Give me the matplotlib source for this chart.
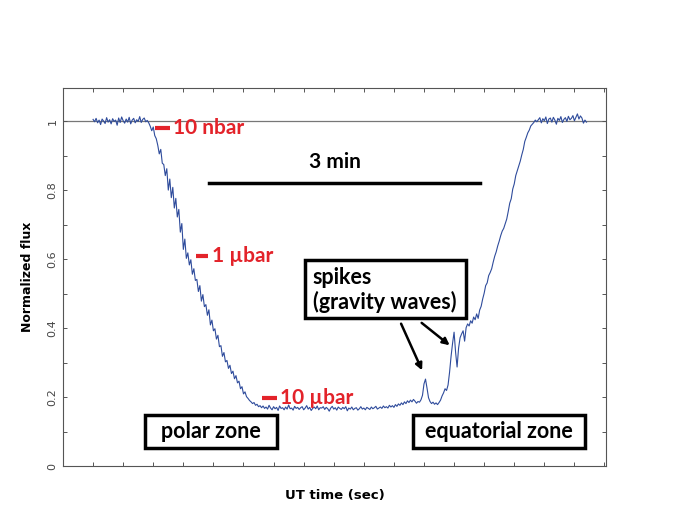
import numpy as np
import matplotlib
matplotlib.use("Agg")
import matplotlib.pyplot as plt
import matplotlib.patches as patches
from matplotlib.ticker import MultipleLocator, NullFormatter

# ============================================================================
# DATA (normalized flux, one sample per second)
# ============================================================================

# baseline before the occultation, starts at t = 20 s
flux_pre = [1.005, 0.998, 1.008, 0.995, 1.003, 0.990, 1.006, 1.000, 0.993, 1.010,
            0.997, 1.004, 0.992, 1.007, 0.999, 1.003, 0.988, 1.009, 0.996, 1.012,
            1.001, 0.994, 1.006, 0.997, 1.011, 0.992, 1.003, 1.008, 0.995, 1.004,
            0.999, 1.013, 0.996, 1.005, 1.009, 0.998, 1.002]

# ingress, starts at t = 57 s
flux_ingress = [0.995, 0.985, 0.972, 0.983, 0.958, 0.949, 0.930, 0.905, 0.918, 0.878,
                0.874, 0.842, 0.862, 0.800, 0.832, 0.778, 0.808, 0.748, 0.776, 0.722,
                0.744, 0.678, 0.703, 0.628, 0.658, 0.602, 0.618, 0.583, 0.598, 0.556,
                0.572, 0.538, 0.541, 0.506, 0.523, 0.478, 0.497, 0.462, 0.468, 0.437,
                0.453, 0.409, 0.423, 0.392, 0.398, 0.368, 0.379, 0.346, 0.349, 0.318,
                0.329, 0.302, 0.306, 0.283, 0.292, 0.268, 0.275, 0.253, 0.262, 0.241,
                0.246, 0.224, 0.230, 0.209, 0.215, 0.201, 0.196, 0.190]

# bottom of the light curve, starts at t = 125 s
flux_bottom = [0.186, 0.181, 0.184, 0.176, 0.179, 0.172, 0.175, 0.169, 0.174, 0.167,
               0.171, 0.165, 0.176, 0.168, 0.163, 0.172, 0.166, 0.170, 0.161, 0.174,
               0.167, 0.169, 0.163, 0.171, 0.165, 0.177, 0.166, 0.168, 0.162, 0.173,
               0.167, 0.170, 0.164, 0.169, 0.172, 0.163, 0.168, 0.175, 0.165, 0.170,
               0.161, 0.167, 0.171, 0.166, 0.174, 0.163, 0.169, 0.168, 0.172, 0.164,
               0.170, 0.166, 0.159, 0.168, 0.173, 0.165, 0.169, 0.162, 0.171, 0.167,
               0.164, 0.170, 0.166, 0.172, 0.160, 0.168, 0.165, 0.171, 0.163, 0.167,
               0.169, 0.162, 0.166, 0.172, 0.165, 0.168, 0.163, 0.170, 0.167, 0.164,
               0.171, 0.166, 0.169, 0.173, 0.165, 0.168, 0.171, 0.167, 0.174, 0.169,
               0.172, 0.168, 0.176, 0.171, 0.175, 0.170, 0.178, 0.173, 0.180, 0.176,
               0.183, 0.178, 0.186, 0.181, 0.189, 0.184, 0.191, 0.186, 0.193, 0.188,
               0.182, 0.187, 0.185, 0.192, 0.205, 0.238, 0.252, 0.226, 0.198, 0.187,
               0.181, 0.185, 0.179, 0.183, 0.178, 0.184, 0.191, 0.203, 0.212, 0.224,
               0.219]

# egress with the gravity-wave spikes, starts at t = 256 s
flux_egress = [0.235, 0.272, 0.318, 0.356, 0.388, 0.330, 0.287, 0.342, 0.372, 0.383,
               0.392, 0.362, 0.401, 0.412, 0.406, 0.421, 0.414, 0.432, 0.424, 0.441,
               0.428, 0.452, 0.463, 0.484, 0.501, 0.523, 0.531, 0.552, 0.561, 0.572,
               0.591, 0.608, 0.621, 0.638, 0.652, 0.668, 0.681, 0.689, 0.703, 0.716,
               0.738, 0.762, 0.775, 0.803, 0.818, 0.842, 0.856, 0.871, 0.884, 0.902,
               0.918, 0.941, 0.953, 0.966, 0.974, 0.986, 0.991, 0.996, 1.003, 0.998]

# baseline after the occultation, starts at t = 316 s
flux_post = [1.004, 1.010, 0.995, 1.007, 1.001, 1.012, 0.993, 1.006, 1.009, 0.997,
             1.011, 1.003, 0.991, 1.008, 1.002, 1.013, 0.996, 1.005, 1.010, 0.999,
             1.014, 1.004, 1.008, 1.016, 1.001, 1.011, 1.021, 1.006, 1.015, 1.009,
             0.994, 1.003, 0.997]

segment_starts = [20, 57, 125, 256, 316]

# ============================================================================
# BUILD THE TIME SERIES
# ============================================================================

segments = [flux_pre, flux_ingress, flux_bottom, flux_egress, flux_post]
time_s = np.concatenate([start + np.arange(len(seg))
                         for start, seg in zip(segment_starts, segments)])
flux = np.concatenate([np.array(seg) for seg in segments])

# ============================================================================
# PLOT
# ============================================================================

RED = "#e3232a"
LINE_BLUE = "#2f4c9c"
ANNOT_FONT = ["Lato", "DejaVu Sans"]

fig = plt.figure(figsize=(6.89, 5.17), dpi=100)
ax = fig.add_axes([63 / 689, 51 / 517, 543 / 689, 378 / 517])

ax.axhline(1.0, color="#777777", linewidth=0.9, zorder=1)
ax.plot(time_s, flux, color=LINE_BLUE, linewidth=0.8, zorder=3)

ax.set_xlim(0, 361)
ax.set_ylim(0, 1.096)

# ticks: inward, on all four sides, no x labels
ax.xaxis.set_major_locator(MultipleLocator(20))
ax.xaxis.set_major_formatter(NullFormatter())
ax.yaxis.set_major_locator(MultipleLocator(0.2))
ax.yaxis.set_minor_locator(MultipleLocator(0.1))
ax.tick_params(which="both", direction="in", top=True, right=True,
               length=3, width=0.7, color="#555555")
ax.tick_params(axis="y", labelsize=8, labelcolor="#444444", pad=4)
ax.set_yticks([0, 0.2, 0.4, 0.6, 0.8, 1.0])
ax.set_yticklabels(["0", "0.2", "0.4", "0.6", "0.8", "1"], rotation=90, va="center")
for side in ax.spines.values():
    side.set_color("#555555")
    side.set_linewidth(0.8)

ax.set_ylabel("Normalized flux", fontsize=9, fontweight="bold", labelpad=10)
ax.set_xlabel("UT time (sec)", fontsize=9.5, fontweight="bold", labelpad=13)

# pressure markers
pressure_marks = [("10 nbar", 61, 71, 0.98, 73),
                  ("1 \u00b5bar", 88.5, 96.5, 0.609, 99),
                  ("10 \u00b5bar", 132, 142, 0.197, 144)]
for label, x0, x1, y, xt in pressure_marks:
    ax.plot([x0, x1], [y, y], color=RED, linewidth=3, solid_capstyle="butt", zorder=4)
    ax.text(xt, y, label, color=RED, fontsize=15, fontweight="bold",
            family=ANNOT_FONT, va="center", ha="left", zorder=5)

# 3 minute scale bar
ax.plot([97, 277], [0.82, 0.82], color="black", linewidth=2.5, zorder=4)
ax.text(181, 0.88, "3 min", fontsize=15, fontweight="bold", family=ANNOT_FONT,
        ha="center", va="center")

# boxed labels
def boxed_label(x0, x1, y0, y1, text, tx, ty, ha):
    box = patches.Rectangle((x0, y0), x1 - x0, y1 - y0, fill=False,
                            edgecolor="black", linewidth=2.5, zorder=6)
    ax.add_patch(box)
    ax.text(tx, ty, text, fontsize=15.5, fontweight="bold", family=ANNOT_FONT,
            ha=ha, va="center", linespacing=1.2, zorder=7)

boxed_label(54.5, 142.2, 0.052, 0.148, "polar zone", 98.3, 0.099, "center")
boxed_label(232.5, 347.0, 0.052, 0.148, "equatorial zone", 289.7, 0.099, "center")
boxed_label(160.8, 267.8, 0.428, 0.596, "spikes\n(gravity waves)", 166.0, 0.51, "left")

# arrows to the spikes
arrow_style = dict(arrowstyle="-|>", color="black", linewidth=1.8, mutation_scale=10)
ax.annotate("", xy=(239.5, 0.27), xytext=(224, 0.42), arrowprops=arrow_style)
ax.annotate("", xy=(258.5, 0.345), xytext=(237, 0.42), arrowprops=arrow_style)

fig.savefig("out.png", dpi=100)
